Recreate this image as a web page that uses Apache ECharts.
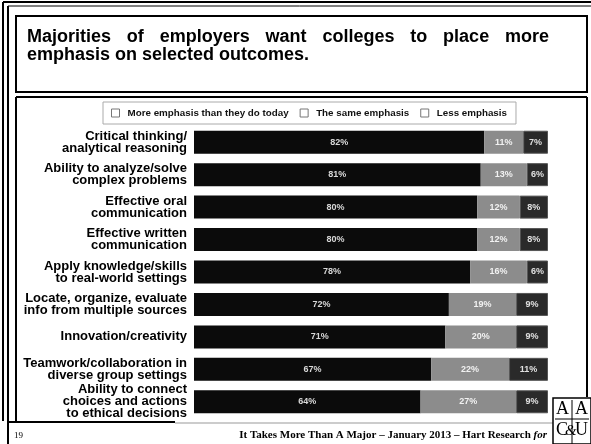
<!DOCTYPE html>
<html><head><meta charset="utf-8">
<script src="https://cdn.jsdelivr.net/npm/echarts@6/dist/echarts.min.js"></script>
<style>html,body{margin:0;padding:0;background:#fff}#c{width:591px;height:444px}</style>
</head><body><div id="c"></div>
<script>
// ---- data ----
const categories = [
  "Critical thinking/\nanalytical reasoning",
  "Ability to analyze/solve\ncomplex problems",
  "Effective oral\ncommunication",
  "Effective written\ncommunication",
  "Apply knowledge/skills\nto real-world settings",
  "Locate, organize, evaluate\ninfo from multiple sources",
  "Innovation/creativity",
  "Teamwork/collaboration in\ndiverse group settings",
  "Ability to connect\nchoices and actions\nto ethical decisions"
];
const seriesNames = ["More emphasis than they do today", "The same emphasis", "Less emphasis"];
const moreEmphasis = [82, 81, 80, 80, 78, 72, 71, 67, 64];
const sameEmphasis = [11, 13, 12, 12, 16, 19, 20, 22, 27];
const lessEmphasis = [7, 6, 8, 8, 6, 9, 9, 11, 9];
const titleLine1 = "Majorities of employers want colleges to place more";
const titleLine2 = "emphasis on selected outcomes.";
const footerText = "It Takes More Than A Major \u2013 January 2013 \u2013 Hart Research ";
const footerItalic = "for";
const pageNumber = "19";

// ---- justified title line ----
const TFONT_SIZE = 18;
const TFONT = 'bold ' + TFONT_SIZE + 'px "Liberation Sans", Arial, sans-serif';
const cv = document.createElement('canvas').getContext('2d');
cv.font = TFONT;
const words = titleLine1.split(' ');
const wW = words.map(w => cv.measureText(w).width);
const x0 = 27, x1 = 549;
const gap = (x1 - x0 - wW.reduce((a, b) => a + b, 0)) / (words.length - 1);
const titleEls = [];
let cx = x0;
words.forEach((w, i) => {
  titleEls.push({type: 'text', left: cx, top: 28, style: {text: w, font: TFONT, fill: '#000'}});
  cx += wW[i] + gap;
});
titleEls.push({type: 'text', left: x0, top: 46, style: {text: titleLine2, font: TFONT, fill: '#000'}});

const chart = echarts.init(document.getElementById('c'), null, {renderer: 'canvas'});
const colors = ['#0b0b0b', '#8c8c8c', '#2a2a2a'];
const labelColors = ['#d8d8d8', '#f2f2f2', '#e0e0e0'];
const vals = [moreEmphasis, sameEmphasis, lessEmphasis];

chart.setOption({
  animation: false,
  backgroundColor: '#fff',
  legend: {
    left: 103, top: 102,
    padding: [6, 9, 6, 8],
    itemWidth: 8, itemHeight: 8, itemGap: 11,
    icon: 'rect',
    borderColor: '#aaa', borderWidth: 1,
    itemStyle: {color: '#fff', borderColor: '#777', borderWidth: 1},
    textStyle: {fontSize: 9.8, fontWeight: 'bold', color: '#111', fontFamily: '"Liberation Sans", Arial, sans-serif', padding: [0, 0, 0, 3]},
    data: seriesNames
  },
  grid: {left: 194, right: 43, top: 126, bottom: 26},
  xAxis: {type: 'value', min: 0, max: 100, show: false},
  yAxis: {
    type: 'category', data: categories, inverse: true,
    axisLine: {show: false}, axisTick: {show: false},
    axisLabel: {
      margin: 7, fontSize: 13, lineHeight: 12, fontWeight: 'bold', color: '#000',
      fontFamily: '"Liberation Sans", Arial, sans-serif', align: 'right'
    }
  },
  series: seriesNames.map((n, i) => ({
    name: n, type: 'bar', stack: 'total', barWidth: 23,
    data: vals[i],
    itemStyle: {color: colors[i], borderColor: i === 2 ? '#555' : colors[i], borderWidth: i === 2 ? 1 : 0},
    label: {
      show: true, position: 'inside', formatter: '{c}%',
      fontSize: 9, fontWeight: 'bold', color: labelColors[i],
      fontFamily: '"Liberation Sans", Arial, sans-serif'
    }
  })),
  graphic: [
    // outer frame
    {type: 'line', shape: {x1: 3, y1: 2, x2: 3, y2: 421}, style: {stroke: '#000', lineWidth: 2}},
    {type: 'line', shape: {x1: 8, y1: 6, x2: 8, y2: 444}, style: {stroke: '#000', lineWidth: 2}},
    {type: 'line', shape: {x1: 3, y1: 2, x2: 591, y2: 2}, style: {stroke: '#000', lineWidth: 2}},
    {type: 'line', shape: {x1: 8, y1: 6, x2: 591, y2: 6}, style: {stroke: '#000', lineWidth: 1}},
    // title box
    {type: 'rect', shape: {x: 16, y: 16, width: 571, height: 76}, style: {fill: 'none', stroke: '#000', lineWidth: 2}},
    // chart box
    {type: 'line', shape: {x1: 16, y1: 97, x2: 587, y2: 97}, style: {stroke: '#000', lineWidth: 2}},
    {type: 'line', shape: {x1: 16, y1: 97, x2: 16, y2: 422}, style: {stroke: '#000', lineWidth: 2}},
    {type: 'line', shape: {x1: 587, y1: 97, x2: 587, y2: 397}, style: {stroke: '#000', lineWidth: 2}},
    {type: 'line', shape: {x1: 8, y1: 422, x2: 175, y2: 422}, style: {stroke: '#000', lineWidth: 2}},
    {type: 'line', shape: {x1: 175, y1: 423, x2: 553, y2: 423}, style: {stroke: '#999', lineWidth: 1}},
    ...titleEls,
    // footer
    {type: 'text', left: 14, top: 431, style: {text: pageNumber, font: '9px "Liberation Serif", serif', fill: '#000'}},
    {type: 'text', right: 44, top: 430, style: {
      text: '{b|' + footerText + '}{i|' + footerItalic + '}',
      rich: {
        b: {font: 'bold 11px "Liberation Serif", serif', fill: '#000'},
        i: {font: 'italic bold 11px "Liberation Serif", serif', fill: '#000'}
      }
    }},
    // logo
    {type: 'rect', shape: {x: 553, y: 398, width: 38, height: 46}, style: {fill: '#fff', stroke: '#000', lineWidth: 1.5}},
    {type: 'line', shape: {x1: 572, y1: 400, x2: 572, y2: 444}, style: {stroke: '#000', lineWidth: 1}},
    {type: 'line', shape: {x1: 555, y1: 419, x2: 589, y2: 419}, style: {stroke: '#000', lineWidth: 1}},
    {type: 'text', left: 556, top: 400, style: {text: 'A', font: '18px "Liberation Serif", serif', fill: '#000'}},
    {type: 'text', left: 575, top: 400, style: {text: 'A', font: '18px "Liberation Serif", serif', fill: '#000'}},
    {type: 'text', left: 556, top: 421, style: {text: 'C', font: '18px "Liberation Serif", serif', fill: '#000'}},
    {type: 'text', left: 565, top: 424, style: {text: '&', font: 'italic 15px "Liberation Serif", serif', fill: '#000'}},
    {type: 'text', left: 575, top: 421, style: {text: 'U', font: '18px "Liberation Serif", serif', fill: '#000'}}
  ]
});
</script>
</body></html>
